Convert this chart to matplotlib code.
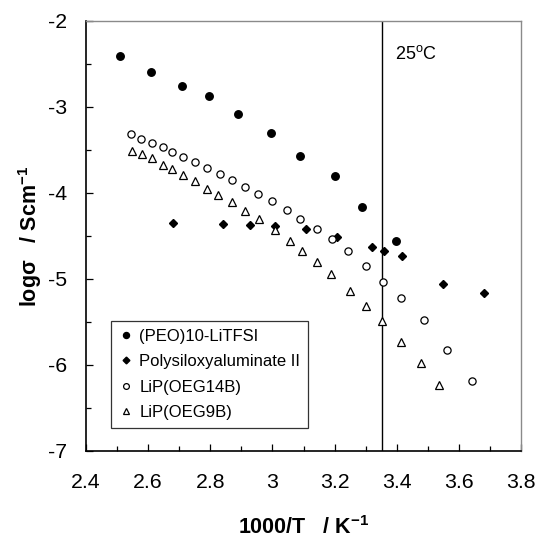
import matplotlib
matplotlib.use("Agg")
import matplotlib.pyplot as plt
from matplotlib.ticker import MultipleLocator, FuncFormatter

plt.rcParams['font.family'] = ['Liberation Sans', 'DejaVu Sans']
plt.rcParams['mathtext.fontset'] = 'custom'
plt.rcParams['mathtext.rm'] = 'Liberation Sans'
plt.rcParams['mathtext.bf'] = 'Liberation Sans:bold'
plt.rcParams['mathtext.it'] = 'Liberation Sans:italic'
plt.rcParams['axes.unicode_minus'] = False

# Data
peo_x = [2.509, 2.609, 2.709, 2.797, 2.888, 2.996, 3.089, 3.200, 3.288, 3.399]
peo_y = [-2.407, -2.597, -2.752, -2.872, -3.081, -3.302, -3.566, -3.806, -4.163, -4.554]

psa_x = [2.679, 2.840, 2.928, 3.008, 3.109, 3.208, 3.320, 3.358, 3.418, 3.549, 3.681]
psa_y = [-4.345, -4.360, -4.376, -4.384, -4.415, -4.508, -4.624, -4.671, -4.729, -5.054, -5.167]

oeg14_x = [2.544, 2.578, 2.612, 2.647, 2.678, 2.713, 2.752, 2.788, 2.830, 2.870, 2.912,
           2.954, 3.000, 3.047, 3.089, 3.143, 3.193, 3.243, 3.302, 3.357, 3.413, 3.487,
           3.561, 3.641]
oeg14_y = [-3.318, -3.368, -3.415, -3.465, -3.527, -3.578, -3.636, -3.705, -3.779, -3.849,
           -3.930, -4.012, -4.097, -4.194, -4.299, -4.415, -4.535, -4.678, -4.853, -5.035,
           -5.217, -5.477, -5.826, -6.186]

oeg9_x = [2.547, 2.579, 2.613, 2.648, 2.678, 2.713, 2.752, 2.789, 2.824, 2.871, 2.913,
          2.956, 3.008, 3.056, 3.096, 3.143, 3.188, 3.249, 3.302, 3.353, 3.415, 3.478,
          3.537]
oeg9_y = [-3.508, -3.547, -3.597, -3.671, -3.721, -3.791, -3.864, -3.950, -4.027, -4.109,
          -4.205, -4.302, -4.430, -4.558, -4.671, -4.806, -4.942, -5.136, -5.314, -5.492,
          -5.736, -5.973, -6.233]

labels = ['(PEO)10-LiTFSI', 'Polysiloxyaluminate II', 'LiP(OEG14B)', 'LiP(OEG9B)']
x_25C = 1000 / 298.15

fig = plt.figure(figsize=(5.38, 5.38), dpi=100)
ax = fig.add_axes([86/538, 1 - 451/538, 435/538, 430/538])

ax.plot(peo_x, peo_y, 'o', color='black', ms=5.4, mec='black', label=labels[0], zorder=3)
ax.plot(psa_x, psa_y, 'D', color='black', ms=4.3, mec='black', label=labels[1], zorder=3)
ax.plot(oeg14_x, oeg14_y, 'o', mfc='white', mec='black', mew=0.9, ms=5.2, label=labels[2], zorder=3)
ax.plot(oeg9_x, oeg9_y, '^', mfc='white', mec='black', mew=0.9, ms=5.2, label=labels[3], zorder=3)

ax.axvline(x_25C, color='black', lw=1.0, zorder=2)
ax.text(3.395, -2.445, '25$^{\\mathrm{o}}$C', fontsize=13, ha='left', va='baseline')

ax.set_xlim(2.4, 3.8)
ax.set_ylim(-7, -2)
ax.xaxis.set_major_locator(MultipleLocator(0.2))
ax.xaxis.set_minor_locator(MultipleLocator(0.1))
ax.yaxis.set_major_locator(MultipleLocator(1))
ax.yaxis.set_minor_locator(MultipleLocator(0.5))
ax.xaxis.set_major_formatter(FuncFormatter(lambda v, p: f'{v:.10g}' if abs(v - round(v)) > 1e-9 else f'{int(round(v))}'))
ax.yaxis.set_major_formatter(FuncFormatter(lambda v, p: f'{int(round(v))}'))

ax.tick_params(which='both', direction='in', top=False, right=False, labelsize=15.3, color='black')
ax.tick_params(which='major', length=5, width=0.9)
ax.tick_params(which='minor', length=3.5, width=0.9)
ax.tick_params(axis='x', which='major', pad=15.5)
ax.tick_params(axis='y', which='major', pad=13.5)

for s in ['left', 'bottom']:
    ax.spines[s].set_color('black')
    ax.spines[s].set_linewidth(1.2)
for s in ['top', 'right']:
    ax.spines[s].set_color('#8a8a8a')
    ax.spines[s].set_linewidth(1.0)

ax.set_xlabel('1000/T   / K$^{\\mathbf{-1}}$', fontsize=15.5, fontweight='bold', labelpad=18)
ax.set_ylabel('logσ   / Scm$^{\\mathbf{-1}}$', fontsize=15.5, fontweight='bold', labelpad=3)

leg = ax.legend(loc='lower left', bbox_to_anchor=(0.057, 0.053), borderaxespad=0,
                fontsize=12, frameon=True, fancybox=False, edgecolor='black',
                handlelength=0.8, handletextpad=0.4, labelspacing=0.62, borderpad=0.5,
                markerscale=0.8)
leg.get_frame().set_linewidth(0.9)

fig.savefig('out.png', dpi=100)
